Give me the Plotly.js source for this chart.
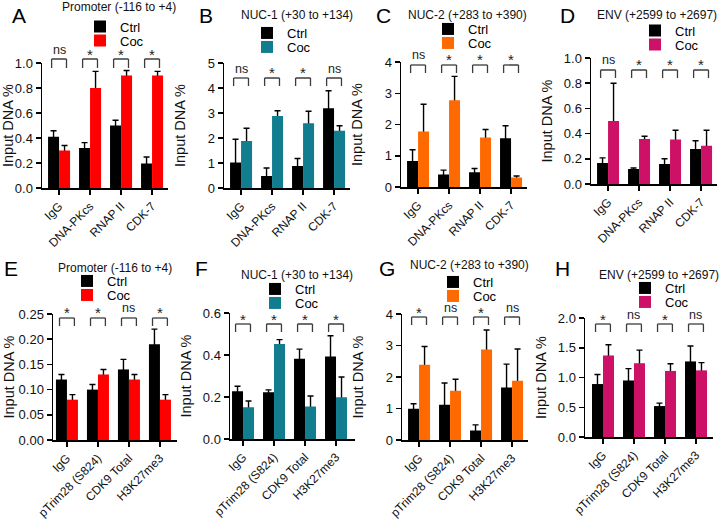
<!DOCTYPE html>
<html><head><meta charset="utf-8">
<script src="https://cdn.plot.ly/plotly-3.0.1.min.js"></script>
<style>html,body{margin:0;padding:0;background:#fff}#chart{width:720px;height:519px}</style>
</head><body><div id="chart"></div>
<script>
// ---------- data ----------
const catsTop = ['IgG', 'DNA-PKcs', 'RNAP II', 'CDK-7'];
const catsBottom = ['IgG', 'pTrim28 (S824)', 'CDK9 Total', 'H3K27me3'];
const seriesNames = ['Ctrl', 'Coc'];
const yTitle = 'Input DNA %';

const aCtrl = [0.41, 0.32, 0.50, 0.195], aCtrlErr = [0.048, 0.043, 0.042, 0.053];
const aCoc = [0.30, 0.80, 0.90, 0.90], aCocErr = [0.04, 0.133, 0.04, 0.033];
const aSig = ['ns', '*', '*', '*'];

const bCtrl = [1.02, 0.48, 0.88, 3.19], bCtrlErr = [0.93, 0.32, 0.30, 0.70];
const bCoc = [1.88, 2.88, 2.59, 2.29], bCocErr = [0.51, 0.21, 0.48, 0.20];
const bSig = ['ns', '*', '*', 'ns'];

const cCtrl = [0.83, 0.40, 0.47, 1.56], cCtrlErr = [0.36, 0.14, 0.12, 0.40];
const cCoc = [1.78, 2.78, 1.58, 0.30], cCocErr = [0.87, 0.76, 0.26, 0.05];
const cSig = ['ns', '*', '*', '*'];

const dCtrl = [0.167, 0.12, 0.158, 0.278], dCtrlErr = [0.040, 0.007, 0.042, 0.065];
const dCoc = [0.50, 0.358, 0.353, 0.303], dCocErr = [0.30, 0.021, 0.074, 0.124];
const dSig = ['ns', '*', '*', '*'];

const eCtrl = [0.12, 0.10, 0.14, 0.19], eCtrlErr = [0.01, 0.01, 0.02, 0.03];
const eCoc = [0.08, 0.13, 0.12, 0.08], eCocErr = [0.01, 0.01, 0.01, 0.01];
const eSig = ['*', '*', 'ns', '*'];

const fCtrl = [0.227, 0.223, 0.382, 0.393], fCtrlErr = [0.024, 0.011, 0.046, 0.099];
const fCoc = [0.151, 0.452, 0.155, 0.199], fCocErr = [0.030, 0.021, 0.050, 0.096];
const fSig = ['*', '*', '*', '*'];

const gCtrl = [0.99, 1.12, 0.30, 1.67], gCtrlErr = [0.16, 0.69, 0.18, 0.74];
const gCoc = [2.39, 1.56, 2.87, 1.88], gCocErr = [0.58, 0.37, 0.62, 1.01];
const gSig = ['*', 'ns', '*', 'ns'];

const hCtrl = [0.89, 0.95, 0.52, 1.27], hCtrlErr = [0.16, 0.20, 0.05, 0.26];
const hCoc = [1.37, 1.24, 1.11, 1.12], hCocErr = [0.18, 0.22, 0.12, 0.13];
const hSig = ['*', 'ns', '*', 'ns'];

// ---------- panel setup (styles / positions) ----------
const W = 720, H = 519, SP = 31; // px per category
const FONT = 'Liberation Sans, Arial, Helvetica, sans-serif';
const RED = '#ff0000', TEAL = '#117d8f', ORANGE = '#ff6a00', MAG = '#cc1166';

const panels = [
  {L:'A', title:'Promoter (-116 to +4)', cats:catsTop, ctrl:aCtrl, ctrlErr:aCtrlErr, coc:aCoc, cocErr:aCocErr, sig:aSig, color:RED,
   ymax:1, dtick:0.2, fmt:'.1f', xl:42, yt:63, yb:188, rl:-0.55, rr:3.5, letter:[19,15], tpos:[119,7], leg:[110,33.5], sigY:[50,59,68]},
  {L:'B', title:'NUC-1 (+30 to +134)', cats:catsTop, ctrl:bCtrl, ctrlErr:bCtrlErr, coc:bCoc, cocErr:bCocErr, sig:bSig, color:TEAL,
   ymax:5, dtick:1, fmt:'d', xl:224, yt:63, yb:188, rl:-0.55, rr:3.5, letter:[206,15], tpos:[297,15], leg:[277,40], sigY:[69,78,86]},
  {L:'C', title:'NUC-2 (+283 to +390)', cats:catsTop, ctrl:cCtrl, ctrlErr:cCtrlErr, coc:cCoc, cocErr:cCocErr, sig:cSig, color:ORANGE,
   ymax:4, dtick:1, fmt:'d', xl:401, yt:62, yb:187, rl:-0.55, rr:3.5, letter:[383,15], tpos:[467,15], leg:[458,36], sigY:[55,65,73]},
  {L:'D', title:'ENV (+2599 to +2697)', cats:catsTop, ctrl:dCtrl, ctrlErr:dCtrlErr, coc:dCoc, cocErr:dCocErr, sig:dSig, color:MAG,
   ymax:1, dtick:0.2, fmt:'.1f', xl:591, yt:58, yb:184, rl:-0.55, rr:3.5, letter:[567,15], tpos:[657,15], leg:[665,37.5], sigY:[60,70,78]},
  {L:'E', title:'Promoter (-116 to +4)', cats:catsBottom, ctrl:eCtrl, ctrlErr:eCtrlErr, coc:eCoc, cocErr:eCocErr, sig:eSig, color:RED,
   ymax:0.25, dtick:0.05, fmt:'.2f', xl:53, yt:314, yb:440, rl:-0.45, rr:3.55, letter:[11,269], tpos:[115,268], leg:[97,288], sigY:[308,318,326]},
  {L:'F', title:'NUC-1 (+30 to +134)', cats:catsBottom, ctrl:fCtrl, ctrlErr:fCtrlErr, coc:fCoc, cocErr:fCocErr, sig:fSig, color:TEAL,
   ymax:0.6, dtick:0.2, fmt:'.1f', xl:230, yt:313, yb:439, rl:-0.42, rr:3.6, letter:[201,268], tpos:[297,275], leg:[285,296], sigY:[315,324,332]},
  {L:'G', title:'NUC-2 (+283 to +390)', cats:catsBottom, ctrl:gCtrl, ctrlErr:gCtrlErr, coc:gCoc, cocErr:gCocErr, sig:gSig, color:ORANGE,
   ymax:4, dtick:1, fmt:'d', xl:402, yt:314, yb:440, rl:-0.55, rr:3.5, letter:[387,268], tpos:[469,265], leg:[463,289], sigY:[308,317,325]},
  {L:'H', title:'ENV (+2599 to +2697)', cats:catsBottom, ctrl:hCtrl, ctrlErr:hCtrlErr, coc:hCoc, cocErr:hCocErr, sig:hSig, color:MAG,
   ymax:2, dtick:0.5, fmt:'.1f', xl:585, yt:318, yb:437, rl:-0.58, rr:3.55, letter:[562,268], tpos:[659,275], leg:[655,295], sigY:[315,324,332]}
];

const px = v => v / W, py = v => 1 - v / H;
const traces = [], shapes = [], annotations = [];
const layout = {
  width: W, height: H, margin: {l:0, r:0, t:0, b:0},
  paper_bgcolor: '#fff', plot_bgcolor: '#fff',
  font: {family: FONT, size: 13, color: '#111'},
  barmode: 'group', bargap: 0.29, bargroupgap: 0,
  showlegend: true, shapes: shapes, annotations: annotations
};

panels.forEach((p, i) => {
  const n = i + 1, sfx = n === 1 ? '' : String(n);
  const xa = 'x' + sfx, ya = 'y' + sfx;
  const eps = p.ymax * 0.03;
  // error-bar carriers (hidden bars, drawn first so the visible bars hide the lower cap)
  [[p.ctrl, p.ctrlErr, 'ctrl'], [p.coc, p.cocErr, 'coc']].forEach(([vals, errs, grp]) => {
    traces.push({type:'bar', x:p.cats, y:vals.map(v => v - eps), xaxis:xa, yaxis:ya, offsetgroup:grp,
      marker:{color:'rgba(0,0,0,0)'}, showlegend:false, hoverinfo:'skip',
      error_y:{type:'data', symmetric:false, array:errs.map(e => e + eps), arrayminus:errs.map(() => 0),
               color:'#000', thickness:1.4, width:3}});
  });
  const legA = 'legend' + (2*i + 1 === 1 ? '' : String(2*i + 1));
  const legB = 'legend' + String(2*i + 2);
  traces.push({type:'bar', name:seriesNames[0], x:p.cats, y:p.ctrl, xaxis:xa, yaxis:ya, offsetgroup:'ctrl',
    marker:{color:'#000'}, legend:legA});
  traces.push({type:'bar', name:seriesNames[1], x:p.cats, y:p.coc, xaxis:xa, yaxis:ya, offsetgroup:'coc',
    marker:{color:p.color}, legend:legB});

  const width = (p.rr - p.rl) * SP;
  layout['xaxis' + sfx] = {
    domain:[px(p.xl), px(p.xl + width)], anchor:ya, type:'category', range:[p.rl, p.rr],
    showline:true, linecolor:'#000', linewidth:1.5, ticks:'outside', ticklen:5, tickwidth:1.5, tickcolor:'#000',
    showgrid:false, zeroline:false, tickangle:-45, tickfont:{size:12, color:'#111'}, fixedrange:true
  };
  layout['yaxis' + sfx] = {
    domain:[py(p.yb), py(p.yt)], anchor:xa, range:[0, p.ymax], dtick:p.dtick, tick0:0, tickformat:p.fmt,
    showline:true, linecolor:'#000', linewidth:1.5, ticks:'outside', ticklen:5, tickwidth:1.5, tickcolor:'#000',
    showgrid:false, zeroline:false, tickfont:{size:13, color:'#111'},
    title:{text:yTitle, font:{size:14.5, color:'#111'}}, fixedrange:true
  };
  // legends: one per series so the entry spacing can match the original
  const legBase = {xanchor:'left', yanchor:'middle', bgcolor:'rgba(0,0,0,0)', borderwidth:0,
                   font:{size:13, color:'#000'}, itemclick:false, itemdoubleclick:false};
  layout[legA] = Object.assign({}, legBase, {x:px(p.leg[0] - 30), y:py(p.leg[1] - 7)});
  layout[legB] = Object.assign({}, legBase, {x:px(p.leg[0] - 30), y:py(p.leg[1] + 7)});

  // panel letter + title
  annotations.push({text:p.L, xref:'paper', yref:'paper', x:px(p.letter[0]), y:py(p.letter[1]),
    xanchor:'center', yanchor:'middle', showarrow:false, font:{size:21, color:'#000'}});
  annotations.push({text:p.title, xref:'paper', yref:'paper', x:px(p.tpos[0]), y:py(p.tpos[1]),
    xanchor:'center', yanchor:'middle', showarrow:false, font:{size:12, color:'#111'}});

  // significance brackets + labels
  p.sig.forEach((s, k) => {
    const lc = {color:'#3c3c3c', width:1.3};
    const [ly, top, bot] = p.sigY;
    shapes.push({type:'line', xref:xa, yref:'paper', x0:k - 0.24, x1:k + 0.24, y0:py(top), y1:py(top), line:lc});
    shapes.push({type:'line', xref:xa, yref:'paper', x0:k - 0.24, x1:k - 0.24, y0:py(top), y1:py(bot), line:lc});
    shapes.push({type:'line', xref:xa, yref:'paper', x0:k + 0.24, x1:k + 0.24, y0:py(top), y1:py(bot), line:lc});
    const star = s === '*';
    annotations.push({text:s, xref:xa, yref:'paper', x:k, y:py(ly + (star ? 4 : 0)),
      xanchor:'center', yanchor:'middle', showarrow:false,
      font:{size: star ? 15 : 12.5, color:'#222'}});
  });
});

Plotly.newPlot('chart', traces, layout, {staticPlot:true, displayModeBar:false});
</script></body></html>
